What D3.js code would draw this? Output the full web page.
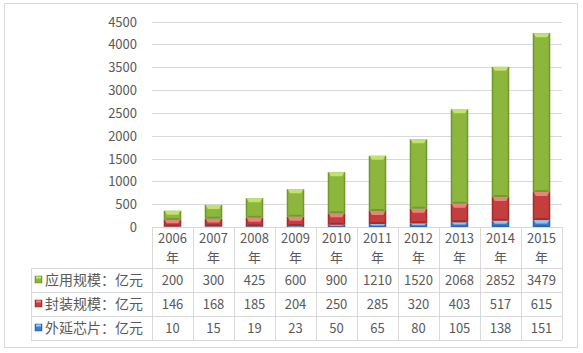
<!DOCTYPE html>
<html><head><meta charset="utf-8">
<script src="https://cdn.jsdelivr.net/npm/d3@7"></script>
<style>body{margin:0;background:#fff;}svg{display:block;}</style>
</head><body>
<svg id="c" width="583" height="353"></svg>
<script>
const years = ["2006","2007","2008","2009","2010","2011","2012","2013","2014","2015"];
const seriesNames = ["应用规模：亿元","封装规模：亿元","外延芯片：亿元"];
const appValues = [200,300,425,600,900,1210,1520,2068,2852,3479];
const packValues = [146,168,185,204,250,285,320,403,517,615];
const chipValues = [10,15,19,23,50,65,80,105,138,151];
const yTicks = [0,500,1000,1500,2000,2500,3000,3500,4000,4500];

(function(){
const svg = d3.select("#c");
const font = "'Noto Sans CJK SC','Microsoft YaHei',sans-serif";
const textColor = "#595959";
const gridColor = "#d9d9d9";

svg.append("rect").attr("x",4.5).attr("y",3.5).attr("width",573).attr("height",344)
  .attr("fill","#fff").attr("stroke","#d9d9d9");

const plotL = 152, plotR = 562, plotT = 21.5, plotB = 227;
const x = d3.scaleBand().domain(years).range([plotL,plotR]).padding(0);
const y = d3.scaleLinear().domain([0,4500]).range([plotB,plotT]);

const defs = svg.append("defs");
const colorSets = {
  app: {dark:"#5f8a22", mid:"#8cb63c", light:"#a6cf55", top:"#c4e873"},
  pack:{dark:"#8e2322", mid:"#c43e3d", light:"#dd5b5a", top:"#f08a89"},
  chip:{dark:"#24579c", mid:"#3f7cc9", light:"#5d9be0", top:"#9ccbf5"}
};
Object.entries(colorSets).forEach(([k,c])=>{
  const g = defs.append("linearGradient").attr("id","g_"+k).attr("x1","0").attr("x2","1").attr("y1","0").attr("y2","0");
  g.append("stop").attr("offset","0").attr("stop-color",c.dark);
  g.append("stop").attr("offset","0.12").attr("stop-color",c.mid);
  g.append("stop").attr("offset","0.5").attr("stop-color",c.mid);
  g.append("stop").attr("offset","0.88").attr("stop-color",c.mid);
  g.append("stop").attr("offset","1").attr("stop-color",c.dark);
});

svg.append("g").selectAll("line").data(yTicks.filter(d=>d>0)).join("line")
  .attr("x1",plotL).attr("x2",plotR)
  .attr("y1",d=>Math.round(y(d))+0.5).attr("y2",d=>Math.round(y(d))+0.5)
  .attr("stroke",gridColor).attr("stroke-width",1);

const yAxis = d3.axisLeft(y).tickValues(yTicks).tickFormat(d3.format("d")).tickSize(0).tickPadding(0);
const ya = svg.append("g").attr("transform","translate(137,0)").call(yAxis);
ya.select(".domain").remove();
ya.selectAll("text").attr("font-family",font).attr("font-size",13).attr("fill",textColor).attr("dy","0.35em");

const rows = years.map((yr,i)=>({year:yr, chip:chipValues[i], pack:packValues[i], app:appValues[i]}));
const stack = d3.stack().keys(["chip","pack","app"])(rows);
const bw = 17.5;
stack.forEach(layer=>{
  const k = layer.key, c = colorSets[k];
  const g = svg.append("g");
  layer.forEach(d=>{
    const cx = x(d.data.year) + x.bandwidth()/2;
    const x0 = cx - bw/2;
    const y0 = y(d[1]), y1 = y(d[0]);
    const h = y1 - y0;
    g.append("rect").attr("x",x0).attr("y",y0).attr("width",bw).attr("height",h)
      .attr("fill","url(#g_"+k+")");
    const bev = Math.min(4, h/2);
    g.append("path")
      .attr("d",`M${x0+1},${y0} L${x0+bw-1},${y0} L${x0+bw-3},${y0+bev} L${x0+3},${y0+bev} Z`)
      .attr("fill",c.top).attr("opacity",0.9);
    const sh = Math.min(2,h/3);
    g.append("path")
      .attr("d",`M${x0+1},${y1} L${x0+bw-1},${y1} L${x0+bw-3},${y1-sh} L${x0+3},${y1-sh} Z`)
      .attr("fill",c.dark).attr("opacity",0.6);
  });
});

const rowTop = 227, headerBottom = 268, rowH = 24;
const rowYs = [headerBottom, headerBottom+rowH, headerBottom+2*rowH, headerBottom+3*rowH];
const legendLeft = 31;
const tg = svg.append("g");
tg.append("line").attr("x1",plotL).attr("x2",plotR).attr("y1",rowTop+0.5).attr("y2",rowTop+0.5).attr("stroke",gridColor);
rowYs.forEach(yy=>{
  tg.append("line").attr("x1",legendLeft).attr("x2",plotR).attr("y1",yy+0.5).attr("y2",yy+0.5).attr("stroke",gridColor);
});
const vx = years.map(yr=>x(yr)).concat([plotR]);
vx.forEach(xx=>{
  tg.append("line").attr("x1",Math.round(xx)+0.5).attr("x2",Math.round(xx)+0.5).attr("y1",rowTop).attr("y2",rowYs[3]).attr("stroke",gridColor);
});
tg.append("line").attr("x1",legendLeft+0.5).attr("x2",legendLeft+0.5).attr("y1",rowYs[0]).attr("y2",rowYs[3]).attr("stroke",gridColor);

years.forEach(yr=>{
  const cx = x(yr)+x.bandwidth()/2;
  tg.append("text").attr("x",cx).attr("y",243).attr("text-anchor","middle")
    .attr("font-family",font).attr("font-size",13).attr("fill",textColor).text(yr);
  tg.append("text").attr("x",cx).attr("y",262).attr("text-anchor","middle")
    .attr("font-family",font).attr("font-size",13).attr("fill",textColor).text("年");
});
const seriesData = [appValues, packValues, chipValues];
const seriesKeys = ["app","pack","chip"];
seriesData.forEach((vals,r)=>{
  const cy = rowYs[r] + rowH/2;
  const c = colorSets[seriesKeys[r]];
  tg.append("rect").attr("x",35).attr("y",cy-4).attr("width",7).attr("height",7)
    .attr("fill","url(#g_"+seriesKeys[r]+")").attr("stroke",c.dark).attr("stroke-width",0.5);
  tg.append("rect").attr("x",36).attr("y",cy-3.5).attr("width",5).attr("height",2).attr("fill",c.top);
  tg.append("text").attr("x",45).attr("y",cy).attr("dy","0.36em")
    .attr("font-family",font).attr("font-size",14).attr("fill",textColor).text(seriesNames[r]);
  vals.forEach((v,i)=>{
    tg.append("text").attr("x",x(years[i])+x.bandwidth()/2).attr("y",cy).attr("dy","0.36em")
      .attr("text-anchor","middle").attr("font-family",font).attr("font-size",13).attr("fill",textColor).text(v);
  });
});
})();
</script>
</body></html>
